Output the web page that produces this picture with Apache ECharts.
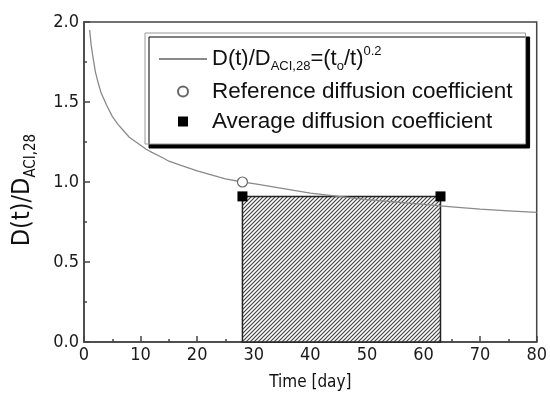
<!DOCTYPE html>
<html>
<head>
<meta charset="utf-8">
<script src="https://cdn.jsdelivr.net/npm/echarts@6/dist/echarts.min.js"></script>
<style>
  html, body { margin: 0; padding: 0; background: #fff; }
  #chart { width: 550px; height: 396px; }
</style>
</head>
<body>
<div id="chart"></div>
<script>
// Normalized diffusion coefficient D(t)/D_ACI,28 along time (days)
const curveDays  = [1, 1.25, 1.5, 2, 2.5, 3, 4, 5, 6, 7, 8, 9, 10, 11, 12, 14, 15, 17, 20, 25, 28, 30, 35, 40, 45, 50, 55, 60, 65, 70, 75, 80];
const curveRatio = [1.95, 1.86, 1.80, 1.69, 1.62, 1.56, 1.48, 1.41, 1.36, 1.32, 1.28, 1.255, 1.23, 1.205, 1.185, 1.15, 1.13, 1.105, 1.07, 1.02, 1.00, 0.99, 0.96, 0.93, 0.91, 0.89, 0.875, 0.86, 0.845, 0.83, 0.82, 0.81];

// Reference diffusion coefficient (28 days)
const refDays  = [28];
const refRatio = [1.00];

// Average diffusion coefficient over the exposure period
const avgDays  = [28, 63];
const avgRatio = [0.91, 0.91];

// Axis ticks
const xTickLabels = ['0', '10', '20', '30', '40', '50', '60', '70', '80'];
const yTickLabels = ['0.0', '0.5', '1.0', '1.5', '2.0'];

const curveName = 'D(t)/DACI,28=(to/t)0.2';
const refName = 'Reference diffusion coefficient';
const avgName = 'Average diffusion coefficient';

const tickFont = '"DejaVu Sans Condensed", "DejaVu Sans", sans-serif';
const legendFont = '"Liberation Sans", Arial, sans-serif';

// Diagonal hatch tile for the averaging period
function hatchTile() {
  const c = document.createElement('canvas');
  c.width = 4; c.height = 4;
  const g = c.getContext('2d');
  g.fillStyle = '#ffffff';
  g.fillRect(0, 0, 4, 4);
  g.strokeStyle = '#444444';
  g.lineWidth = 1.2;
  g.beginPath();
  g.moveTo(-1, 5); g.lineTo(5, -1);
  g.moveTo(-1, 1); g.lineTo(1, -1);
  g.moveTo(3, 5); g.lineTo(5, 3);
  g.stroke();
  return c;
}
const hatch = hatchTile();

const chart = echarts.init(document.getElementById('chart'), null, { renderer: 'canvas' });

chart.setOption({
  animation: false,
  backgroundColor: '#ffffff',
  grid: {
    left: 84, right: 12, top: 22, bottom: 54,
    show: true, borderColor: '#444', borderWidth: 1.5, backgroundColor: 'transparent'
  },
  legend: {
    orient: 'vertical',
    left: 145, top: 33,
    padding: [12, 13, 11, 13],
    itemWidth: 48, itemHeight: 10, itemGap: 7,
    backgroundColor: '#ffffff',
    borderColor: '#999', borderWidth: 1, borderRadius: 0,
    shadowColor: '#000', shadowBlur: 0, shadowOffsetX: 4, shadowOffsetY: 4,
    selectedMode: false,
    data: [
      { name: curveName, itemStyle: { color: 'rgba(0,0,0,0)', borderWidth: 0 } },
      refName,
      { name: avgName, icon: 'path://M0,0L10,0L10,10L0,10Z' }
    ],
    formatter: function (name) {
      if (name === curveName) {
        return '{m|D(t)/D}{s|ACI,28}{m|=(t}{s|o}{m|/t)}{p|0.2}';
      }
      return '{n|' + name + '}';
    },
    textStyle: {
      color: '#111', fontFamily: legendFont, fontSize: 22,
      rich: {
        m: { fontSize: 22, lineHeight: 28, verticalAlign: 'middle', fontFamily: legendFont, color: '#111' },
        s: { fontSize: 13, lineHeight: 10, verticalAlign: 'bottom', fontFamily: legendFont, color: '#111' },
        p: { fontSize: 13, lineHeight: 10, verticalAlign: 'top', fontFamily: legendFont, color: '#111' },
        n: { fontSize: 22.5, lineHeight: 18, fontFamily: legendFont, color: '#111' }
      }
    }
  },
  xAxis: {
    type: 'value', min: 0, max: 80, interval: 10,
    name: 'Time [day]', nameLocation: 'middle', nameGap: 32,
    nameTextStyle: { fontFamily: tickFont, fontSize: 17, color: '#111' },
    axisLine: { show: true, onZero: false, lineStyle: { color: '#444', width: 1.5 } },
    axisTick: { show: true, inside: true, length: 6, lineStyle: { color: '#444', width: 1.5 } },
    minorTick: { show: true, splitNumber: 2, length: 3, lineStyle: { color: '#444', width: 1.5 } },
    splitLine: { show: false },
    axisLabel: {
      margin: 4, fontFamily: tickFont, fontSize: 18, color: '#1a1a1a',
      formatter: function (v) { return xTickLabels[Math.round(v / 10)]; }
    }
  },
  yAxis: {
    type: 'value', min: 0, max: 2, interval: 0.5,
    name: '{m|D(t)/D}{s|ACI,28}', nameLocation: 'middle', nameRotate: 90, nameGap: 45,
    nameTextStyle: {
      padding: [0, 16, 0, 0],
      rich: {
        m: { fontSize: 25, lineHeight: 34, verticalAlign: 'middle', fontFamily: tickFont, color: '#111' },
        s: { fontSize: 15, lineHeight: 14, verticalAlign: 'bottom', fontFamily: tickFont, color: '#111' }
      }
    },
    axisLine: { show: true, onZero: false, lineStyle: { color: '#444', width: 1.5 } },
    axisTick: { show: true, inside: true, length: 6, lineStyle: { color: '#444', width: 1.5 } },
    minorTick: { show: true, splitNumber: 2, length: 3, lineStyle: { color: '#444', width: 1.5 } },
    splitLine: { show: false },
    axisLabel: {
      margin: 5, fontFamily: tickFont, fontSize: 18, color: '#1a1a1a',
      formatter: function (v) { return yTickLabels[Math.round(v / 0.5)]; }
    }
  },
  series: [
    {
      // hatched averaging period
      type: 'custom',
      z: 1,
      silent: true,
      data: [[avgDays[0], avgDays[1], avgRatio[0]]],
      encode: { x: [0, 1], y: 2 },
      renderItem: function (params, api) {
        const p0 = api.coord([api.value(0), api.value(2)]);
        const p1 = api.coord([api.value(1), 0]);
        return {
          type: 'rect',
          shape: { x: p0[0], y: p0[1], width: p1[0] - p0[0], height: p1[1] - p0[1] },
          style: { fill: { image: hatch, repeat: 'repeat' }, stroke: '#222', lineWidth: 1.5 }
        };
      }
    },
    {
      name: curveName,
      type: 'line',
      z: 3,
      data: curveDays.map((d, i) => [d, curveRatio[i]]),
      smooth: false,
      symbol: 'none',
      showSymbol: false,
      lineStyle: { color: '#8a8a8a', width: 1.3 },
      itemStyle: { color: '#8a8a8a' }
    },
    {
      name: refName,
      type: 'scatter',
      z: 4,
      data: refDays.map((d, i) => [d, refRatio[i]]),
      symbol: 'circle',
      symbolSize: 10,
      itemStyle: { color: '#ffffff', borderColor: '#666', borderWidth: 1.2, opacity: 1 }
    },
    {
      name: avgName,
      type: 'scatter',
      z: 5,
      data: avgDays.map((d, i) => [d, avgRatio[i]]),
      symbol: 'rect',
      symbolSize: 10,
      itemStyle: { color: '#000000', opacity: 1 }
    }
  ]
});
</script>
</body>
</html>
